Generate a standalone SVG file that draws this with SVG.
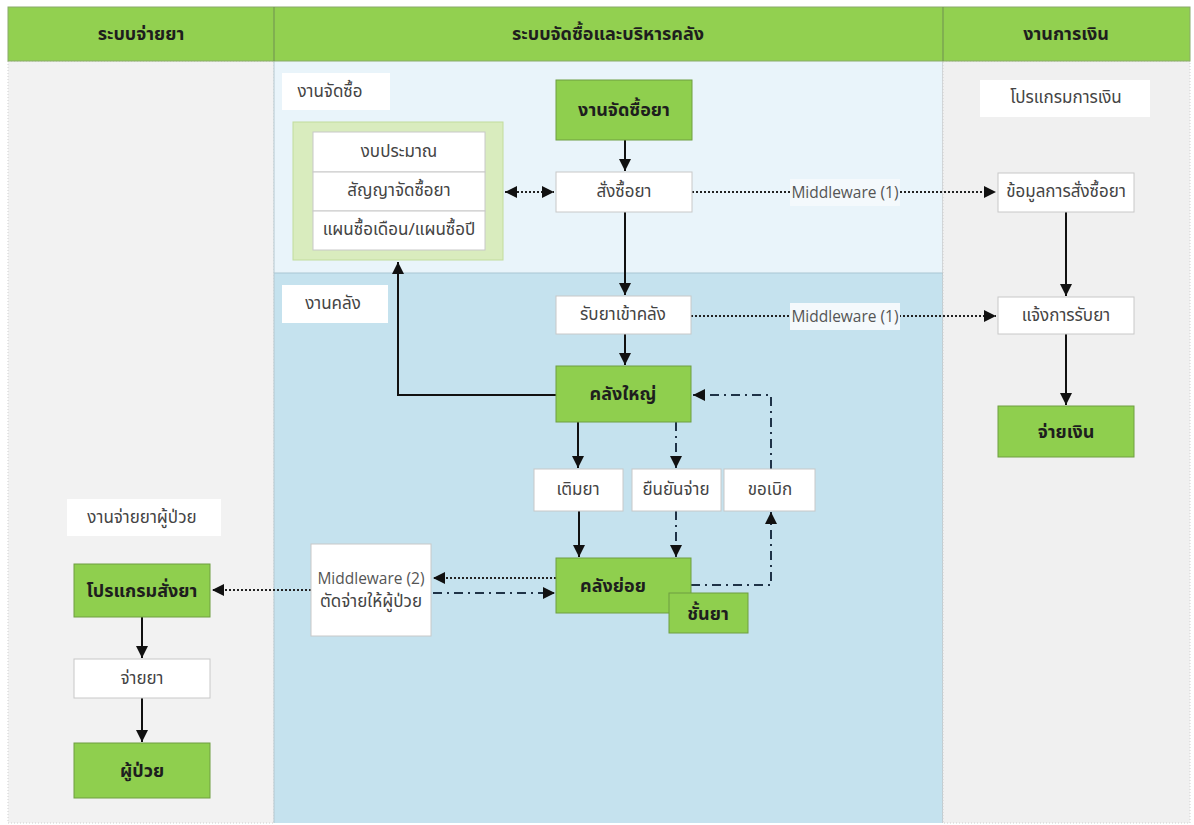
<svg xmlns="http://www.w3.org/2000/svg" width="1194" height="825" viewBox="0 0 1194 825">
<defs>
<style>
text{font-family:"Noto Sans Thai","Noto Sans","DejaVu Sans","Liberation Sans",sans-serif;font-size:17px;fill:#444;text-anchor:middle;dominant-baseline:central}
.hd{font-weight:bold;font-size:18px;fill:#1e1e1e}
.gt{font-weight:bold;font-size:18px;fill:#1e1e1e}
.mw{font-family:"Open Sans","Noto Sans",sans-serif;font-size:15.5px;fill:#555}
.wb{fill:#fff;stroke:#c8c8c8;stroke-width:1}
.gb{fill:#8fcf4e;stroke:#6f9e40;stroke-width:1}
.lb{fill:#fff}
.solid{fill:none;stroke:#111;stroke-width:2}
.dot{fill:none;stroke:#222;stroke-width:2;stroke-dasharray:2 2}
.dd{fill:none;stroke:#1f3347;stroke-width:2;stroke-dasharray:9 5 2 5}
</style>
<marker id="ah" viewBox="0 0 10 10" refX="10" refY="5" markerWidth="7" markerHeight="6" orient="auto-start-reverse" markerUnits="strokeWidth">
<path d="M0,0 L10,5 L0,10 z" fill="#111"/>
</marker>
</defs>

<!-- background columns -->
<rect x="0" y="0" width="1194" height="825" fill="#fff"/>
<rect x="8" y="61" width="266" height="762" fill="#f2f2f2" stroke="#d0d0d0" stroke-dasharray="1 2"/>
<rect x="274" y="61" width="669" height="212" fill="#e9f4fa"/>
<rect x="274" y="273" width="669" height="550" fill="#c5e2ee"/>
<line x1="274" y1="273" x2="943" y2="273" stroke="#a9c6d3" stroke-width="1"/>
<line x1="274" y1="61" x2="274" y2="823" stroke="#b6c8d0" stroke-width="1"/>
<line x1="943" y1="61" x2="943" y2="823" stroke="#b8b8b8" stroke-width="1"/>
<rect x="943" y="61" width="247" height="762" fill="#f0f0f0" stroke="#d0d0d0" stroke-dasharray="1 2"/>

<!-- header -->
<g id="header">
<rect x="8" y="7" width="1182" height="54" fill="#92d050" stroke="#8aaa6a" stroke-width="1"/>
<line x1="274" y1="7" x2="274" y2="61" stroke="#6f8f50" stroke-width="1"/>
<line x1="943" y1="7" x2="943" y2="61" stroke="#6f8f50" stroke-width="1"/>
<text class="hd" x="141" y="34">ระบบจ่ายยา</text>
<text class="hd" x="608" y="34">ระบบจัดซื้อและบริหารคลัง</text>
<text class="hd" x="1066" y="34">งานการเงิน</text>
</g>

<!-- section labels -->
<g id="lbl-purchase"><rect class="lb" x="282" y="73" width="108" height="37"/><text x="330" y="92">งานจัดซื้อ</text></g>
<g id="lbl-store"><rect class="lb" x="282" y="285" width="106" height="38"/><text x="333" y="304">งานคลัง</text></g>
<g id="lbl-finance"><rect class="lb" x="980" y="80" width="170" height="37"/><text x="1066" y="98">โปรแกรมการเงิน</text></g>
<g id="lbl-dispense"><rect class="lb" x="67" y="499" width="154" height="37"/><text x="142" y="518">งานจ่ายยาผู้ป่วย</text></g>

<!-- connectors -->
<g id="connectors">
<line class="solid" x1="625" y1="140" x2="625" y2="171" marker-end="url(#ah)"/>
<line class="dot" x1="505" y1="192" x2="554" y2="192" marker-start="url(#ah)" marker-end="url(#ah)"/>
<line class="dot" x1="692" y1="192" x2="996" y2="192" marker-end="url(#ah)"/>
<line class="solid" x1="625" y1="212" x2="625" y2="295" marker-end="url(#ah)"/>
<line class="dot" x1="691" y1="316" x2="996" y2="316" marker-end="url(#ah)"/>
<line class="solid" x1="1066" y1="212" x2="1066" y2="296" marker-end="url(#ah)"/>
<line class="solid" x1="1066" y1="334" x2="1066" y2="405" marker-end="url(#ah)"/>
<line class="solid" x1="625" y1="334" x2="625" y2="365" marker-end="url(#ah)"/>
<polyline class="solid" points="556,395 398,395 398,262" marker-end="url(#ah)"/>
<line class="solid" x1="578" y1="422" x2="578" y2="468" marker-end="url(#ah)"/>
<line class="dd" x1="676" y1="422" x2="676" y2="468" marker-end="url(#ah)"/>
<line class="solid" x1="579" y1="511" x2="579" y2="557" marker-end="url(#ah)"/>
<line class="dd" x1="676" y1="511" x2="676" y2="557" marker-end="url(#ah)"/>
<polyline class="dd" points="691,585 771,585 771,512" marker-end="url(#ah)"/>
<polyline class="dd" points="771,469 771,395 693,395" marker-end="url(#ah)"/>
<line class="dot" x1="556" y1="578" x2="433" y2="578" marker-end="url(#ah)"/>
<line class="dd" x1="433" y1="593" x2="555" y2="593" marker-end="url(#ah)"/>
<line class="dot" x1="311" y1="590" x2="212" y2="590" marker-end="url(#ah)"/>
<line class="solid" x1="142" y1="617" x2="142" y2="658" marker-end="url(#ah)"/>
<line class="solid" x1="142" y1="698" x2="142" y2="742" marker-end="url(#ah)"/>
</g>

<!-- middleware labels -->
<g id="mw1a"><rect x="790" y="179" width="110" height="27" fill="#f4f9fc"/><text class="mw" x="845" y="192">Middleware (1)</text></g>
<g id="mw1b"><rect x="790" y="303" width="110" height="27" fill="#f4f9fc"/><text class="mw" x="845" y="316">Middleware (1)</text></g>

<!-- nodes -->
<g id="n-purchase-drug"><rect class="gb" x="556" y="80" width="136" height="60"/><text class="gt" x="624" y="110">งานจัดซื้อยา</text></g>
<g id="n-plan">
<rect x="293" y="122" width="210" height="138" fill="#d9ecbe" stroke="#c2dc9c"/>
<rect class="wb" x="313" y="132" width="172" height="40"/>
<rect class="wb" x="313" y="172" width="172" height="39"/>
<rect class="wb" x="313" y="211" width="172" height="39"/>
<text x="399" y="152">งบประมาณ</text>
<text x="399" y="191">สัญญาจัดซื้อยา</text>
<text x="399" y="230">แผนซื้อเดือน/แผนซื้อปี</text>
</g>
<g id="n-order"><rect class="wb" x="556" y="172" width="136" height="40"/><text x="624" y="192">สั่งซื้อยา</text></g>
<g id="n-orderdata"><rect class="wb" x="998" y="173" width="136" height="39"/><text x="1066" y="192">ข้อมูลการสั่งซื้อยา</text></g>
<g id="n-receive"><rect class="wb" x="556" y="296" width="135" height="38"/><text x="623" y="315">รับยาเข้าคลัง</text></g>
<g id="n-notify"><rect class="wb" x="998" y="297" width="136" height="37"/><text x="1066" y="316">แจ้งการรับยา</text></g>
<g id="n-main"><rect class="gb" x="556" y="366" width="135" height="56"/><text class="gt" x="623" y="394">คลังใหญ่</text></g>
<g id="n-pay"><rect class="gb" x="998" y="406" width="136" height="51"/><text class="gt" x="1066" y="432">จ่ายเงิน</text></g>
<g id="n-refill"><rect class="wb" x="534" y="469" width="89" height="42"/><text x="578" y="490">เติมยา</text></g>
<g id="n-confirm"><rect class="wb" x="632" y="469" width="89" height="42"/><text x="676" y="490">ยืนยันจ่าย</text></g>
<g id="n-request"><rect class="wb" x="724" y="469" width="91" height="42"/><text x="770" y="490">ขอเบิก</text></g>
<g id="n-sub"><rect class="gb" x="556" y="558" width="135" height="55"/><text class="gt" x="613" y="586">คลังย่อย</text></g>
<g id="n-shelf"><rect class="gb" x="669" y="593" width="79" height="40"/><text class="gt" x="708" y="614">ชั้นยา</text></g>
<g id="n-mw2"><rect class="wb" x="311" y="544" width="120" height="92"/>
<text class="mw" x="371" y="578">Middleware (2)</text>
<text x="371" y="602">ตัดจ่ายให้ผู้ป่วย</text></g>
<g id="n-prescribe"><rect class="gb" x="74" y="564" width="136" height="53"/><text class="gt" x="142" y="591">โปรแกรมสั่งยา</text></g>
<g id="n-dispense"><rect class="wb" x="74" y="659" width="136" height="39"/><text x="142" y="679">จ่ายยา</text></g>
<g id="n-patient"><rect class="gb" x="74" y="743" width="136" height="55"/><text class="gt" x="142" y="771">ผู้ป่วย</text></g>
</svg>
